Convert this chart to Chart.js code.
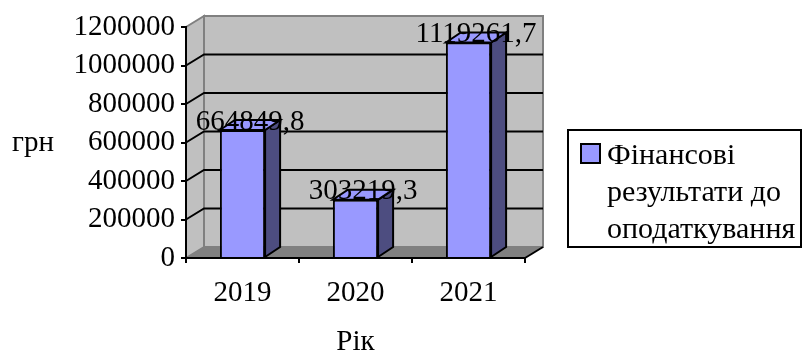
<!DOCTYPE html>
<html>
<head>
<meta charset="utf-8">
<script src="https://cdn.jsdelivr.net/npm/chart.js@4.4.0/dist/chart.umd.min.js"></script>
<style>
  html, body { margin: 0; padding: 0; background: #fff; }
  #wrap { width: 802px; height: 354px; }
</style>
</head>
<body>
<div id="wrap"><canvas id="myChart" width="802" height="354"></canvas></div>
<script>
const years = ["2019", "2020", "2021"];
const values = [664849.8, 303219.3, 1119261.7];
const legendLines = ["Фінансові", "результати до", "оподаткування"];
const yTicks = [0, 200000, 400000, 600000, 800000, 1000000, 1200000];
const yTitle = "грн";
const xTitle = "Рік";

const font = "Liberation Serif";
const barFront = "#9999ff";
const barSide = "#4d4d80";

// wall depth and bar depth (fake 3d)
const wallDx = 18, wallDy = -11;
const barDx = 15, barDy = -10;

const threeD = {
    id: "threeD",
    beforeDraw(chart) {
        const ctx = chart.ctx;
        const a = chart.chartArea;
        const y = chart.scales.y;
        ctx.save();
        ctx.lineJoin = "miter";

        // side wall
        ctx.beginPath();
        ctx.moveTo(a.left, a.top);
        ctx.lineTo(a.left + wallDx, a.top + wallDy);
        ctx.lineTo(a.left + wallDx, a.bottom + wallDy);
        ctx.lineTo(a.left, a.bottom);
        ctx.closePath();
        ctx.fillStyle = "#c0c0c0";
        ctx.fill();
        ctx.strokeStyle = "#808080";
        ctx.lineWidth = 2;
        ctx.stroke();

        // back wall
        ctx.fillStyle = "#c0c0c0";
        ctx.fillRect(a.left + wallDx, a.top + wallDy, a.right - a.left, a.bottom - a.top);
        ctx.strokeRect(a.left + wallDx, a.top + wallDy, a.right - a.left, a.bottom - a.top);

        // floor
        ctx.beginPath();
        ctx.moveTo(a.left, a.bottom);
        ctx.lineTo(a.right, a.bottom);
        ctx.lineTo(a.right + wallDx, a.bottom + wallDy);
        ctx.lineTo(a.left + wallDx, a.bottom + wallDy);
        ctx.closePath();
        ctx.fillStyle = "#808080";
        ctx.fill();
        ctx.beginPath();
        ctx.moveTo(a.right, a.bottom);
        ctx.lineTo(a.right + wallDx, a.bottom + wallDy);
        ctx.strokeStyle = "#000";
        ctx.stroke();

        // grid lines on side + back wall
        yTicks.forEach(v => {
            if (v === yTicks[0] || v === yTicks[yTicks.length - 1]) return;
            const py = y.getPixelForValue(v);
            ctx.beginPath();
            ctx.moveTo(a.left, py);
            ctx.lineTo(a.left + wallDx, py + wallDy);
            ctx.lineTo(a.right + wallDx, py + wallDy);
            ctx.strokeStyle = "#000";
            ctx.lineWidth = 2;
            ctx.stroke();
        });
        ctx.restore();
    },
    afterDatasetsDraw(chart) {
        const ctx = chart.ctx;
        const meta = chart.getDatasetMeta(0);
        ctx.save();
        ctx.lineWidth = 2;
        ctx.strokeStyle = "#000";
        meta.data.forEach((bar, i) => {
            const l = bar.x - bar.width / 2;
            const r = bar.x + bar.width / 2;
            // side face
            ctx.beginPath();
            ctx.moveTo(r, bar.y);
            ctx.lineTo(r + barDx, bar.y + barDy);
            ctx.lineTo(r + barDx, bar.base + barDy);
            ctx.lineTo(r, bar.base);
            ctx.closePath();
            ctx.fillStyle = barSide;
            ctx.fill();
            ctx.stroke();
            // top face
            ctx.beginPath();
            ctx.moveTo(l, bar.y);
            ctx.lineTo(l + barDx, bar.y + barDy);
            ctx.lineTo(r + barDx, bar.y + barDy);
            ctx.lineTo(r, bar.y);
            ctx.closePath();
            ctx.fillStyle = barFront;
            ctx.fill();
            ctx.stroke();
        });
        // value labels
        ctx.fillStyle = "#000";
        ctx.font = "29px '" + font + "'";
        ctx.textAlign = "center";
        ctx.textBaseline = "middle";
        meta.data.forEach((bar, i) => {
            const txt = String(chart.data.datasets[0].data[i]).replace(".", ",");
            ctx.fillText(txt, bar.x + barDx / 2, bar.y + barDy + 2);
        });
        ctx.restore();
    },
    afterDraw(chart) {
        const ctx = chart.ctx;
        ctx.save();
        ctx.fillStyle = "#000";
        ctx.font = "29px '" + font + "'";
        ctx.textAlign = "left";
        ctx.textBaseline = "alphabetic";
        ctx.fillText(yTitle, 12, 151);

        // legend box
        ctx.lineWidth = 2;
        ctx.strokeStyle = "#000";
        ctx.strokeRect(568, 130, 233, 117);
        ctx.fillStyle = chart.data.datasets[0].backgroundColor;
        ctx.fillRect(581, 144, 19, 19);
        ctx.strokeRect(581, 144, 19, 19);
        ctx.fillStyle = "#000";
        ctx.font = "30px '" + font + "'";
        legendLines.forEach((t, i) => {
            ctx.fillText(t, 607, 164 + i * 37);
        });
        ctx.restore();
    }
};

const ctxL = document.getElementById("myChart").getContext("2d");
const myChart = new Chart(ctxL, {
    type: "bar",
    data: {
        labels: years,
        datasets: [{
            label: legendLines.join(" "),
            data: values,
            backgroundColor: barFront,
            borderColor: "#000",
            borderWidth: 2,
            barPercentage: 0.4,
            categoryPercentage: 1
        }]
    },
    options: {
        responsive: false,
        animation: false,
        layout: { padding: { left: 0, top: 27, right: 277, bottom: 0 } },
        plugins: { legend: { display: false }, tooltip: { enabled: false } },
        scales: {
            x: {
                afterFit: (scale) => { scale.height = 96; },
                grid: { drawOnChartArea: false, tickLength: 5, color: "#000", lineWidth: 2 },
                border: { color: "#000", width: 2 },
                ticks: { color: "#000", padding: 13, font: { family: font, size: 29 } },
                title: {
                    display: true, text: xTitle, color: "#000",
                    font: { family: font, size: 29, lineHeight: 0.8 },
                    padding: { top: 0, bottom: 0 }
                }
            },
            y: {
                min: yTicks[0],
                max: yTicks[yTicks.length - 1],
                afterFit: (scale) => { scale.width = 186; },
                afterBuildTicks: (scale) => { scale.ticks = yTicks.map(v => ({ value: v })); },
                grid: { drawOnChartArea: false, tickLength: 5, color: "#000", lineWidth: 2 },
                border: { color: "#000", width: 2 },
                ticks: {
                    color: "#000", padding: 6, font: { family: font, size: 29 },
                    callback: (v) => String(v)
                }
            }
        }
    },
    plugins: [threeD]
});
</script>
</body>
</html>
